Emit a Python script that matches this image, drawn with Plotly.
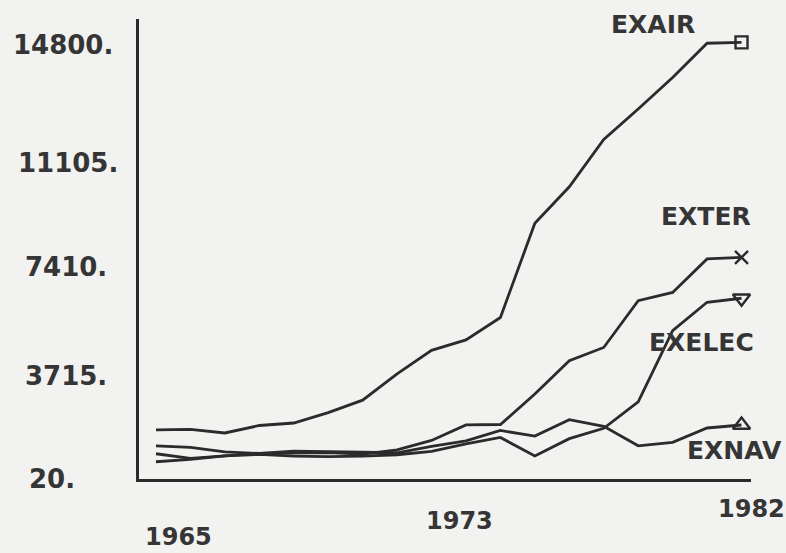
import plotly.graph_objects as go

# ---------------- data ----------------
YEARS = list(range(1965, 1983))
EXAIR = [1194, 1207, 1085, 1340, 1425, 1779, 2204, 3102, 3902, 4256,
         5021, 8236, 9478, 11090, 12128, 13199, 14370, 14400]
EXTER = [377, 221, 302, 387, 401, 415, 364, 513, 830, 1360,
         1374, 2412, 3548, 4000, 5596, 5875, 7018, 7069]
EXELEC = [105, 187, 302, 353, 299, 279, 296, 343, 459, 711,
          932, 299, 891, 1245, 2146, 4575, 5541, 5678]
EXNAV = [649, 595, 438, 387, 469, 449, 432, 411, 629, 813,
         1170, 979, 1537, 1313, 649, 765, 1255, 1357]
SERIES_NAMES = ["EXAIR", "EXTER", "EXELEC", "EXNAV"]
Y_TICKS = [14800, 11105, 7410, 3715, 20]
Y_TICK_TEXT = ["14800.", "11105.", "7410.", "3715.", "20."]
X_TICK_TEXT = ["1965", "1973", "1982"]

# ---------------- styling / layout ----------------
W, H = 786, 553
L, R, T, B = 138.5, 34.5, 18.6, 73.5
PW, PH = W - L - R, H - T - B
INK = "#2b2b2b"
TXT = "#353535"
BG = "#f2f2f0"
FONT = "DejaVu Sans"

def px(x, y):
    """pixel position -> paper coordinates"""
    return (x - L) / PW, (H - B - y) / PH

series = [EXAIR, EXTER, EXELEC, EXNAV]
symbols = ["square-open", "x-thin", "triangle-down-open", "triangle-up-open"]
msizes = [12, 13, 15, 15]

fig = go.Figure()
for name, vals, sym, ms in zip(SERIES_NAMES, series, symbols, msizes):
    fig.add_trace(go.Scatter(
        x=YEARS, y=vals, name=name, mode="lines",
        line=dict(color=INK, width=2.8), showlegend=False,
        hoverinfo="skip"))
    fig.add_trace(go.Scatter(
        x=[YEARS[-1]], y=[vals[-1]], mode="markers", showlegend=False,
        marker=dict(symbol=sym, size=ms, color=INK,
                    line=dict(color=INK, width=2.4)),
        cliponaxis=False, hoverinfo="skip"))

annotations = []
label_pos = {"EXAIR": (653, 24), "EXTER": (706, 216),
             "EXELEC": (702, 343), "EXNAV": (735, 451)}
for name in SERIES_NAMES:
    x, y = px(*label_pos[name])
    annotations.append(dict(text=name, x=x, y=y, xref="paper", yref="paper",
                            xanchor="center", yanchor="middle", showarrow=False,
                            font=dict(family=FONT, size=25, color=TXT, weight="bold")))

ytick_pos = [(10, 45), (15, 163), (22, 267), (22, 376), (26, 480)]
for txt, (x0, y0) in zip(Y_TICK_TEXT, ytick_pos):
    x, y = px(x0, y0)
    annotations.append(dict(text=txt, x=x, y=y, xref="paper", yref="paper",
                            xanchor="left", yanchor="middle", showarrow=False,
                            font=dict(family=FONT, size=26, color=TXT, weight="bold")))

xtick_pos = [(178, 538), (460, 522), (752, 510)]
for txt, (x0, y0) in zip(X_TICK_TEXT, xtick_pos):
    x, y = px(x0, y0)
    annotations.append(dict(text=txt, x=x, y=y, xref="paper", yref="paper",
                            xanchor="center", yanchor="middle", showarrow=False,
                            font=dict(family=FONT, size=24, color=TXT, weight="bold")))

fig.update_layout(
    width=W, height=H,
    margin=dict(l=L, r=R, t=T, b=B, pad=0, autoexpand=False),
    paper_bgcolor=BG, plot_bgcolor=BG,
    xaxis=dict(range=[1964.507, 1982.275], showgrid=False, zeroline=False,
               showticklabels=False, ticks="", showline=True,
               linecolor=INK, linewidth=3),
    yaxis=dict(range=[-483.5, 15196], showgrid=False, zeroline=False,
               showticklabels=False, ticks="", showline=True,
               linecolor=INK, linewidth=3, tickvals=Y_TICKS),
    annotations=annotations,
)

fig.write_html(
    "out.html",
    config={"displayModeBar": False, "staticPlot": True},
    post_script="document.body.style.margin='0';document.body.style.padding='0';"
                "document.body.style.overflow='hidden';",
)
